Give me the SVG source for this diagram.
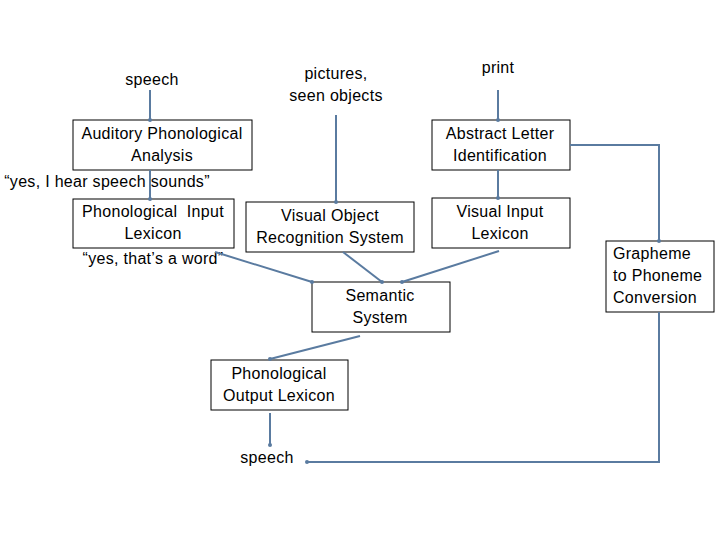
<svg xmlns="http://www.w3.org/2000/svg" width="720" height="540" viewBox="0 0 720 540">
<style>
.box{fill:#fff;stroke:#000;stroke-width:1}
.t{font-family:"Liberation Sans",Arial,sans-serif;font-size:16px;letter-spacing:0.3px;fill:#000;text-anchor:middle}
.l{text-anchor:start}
.c{fill:none;stroke:#5a7ba0;stroke-width:2}
</style>
<defs>
<marker id="dot" markerWidth="6" markerHeight="6" refX="3" refY="3" markerUnits="userSpaceOnUse">
<circle cx="3" cy="3" r="2" fill="#5a7ba0"/>
</marker>
</defs>
<rect width="720" height="540" fill="#fff"/>
<g id="apa"><rect class="box" x="73" y="120" width="179" height="50"/><text class="t" x="162" y="139">Auditory Phonological</text><text class="t" x="162" y="161">Analysis</text></g>
<g id="pil"><rect class="box" x="73" y="199" width="161" height="49"/><text class="t" x="153" y="217" xml:space="preserve">Phonological  Input</text><text class="t" x="153" y="239">Lexicon</text></g>
<g id="vors"><rect class="box" x="246" y="202" width="168" height="50"/><text class="t" x="330" y="221">Visual Object</text><text class="t" x="330" y="243">Recognition System</text></g>
<g id="ali"><rect class="box" x="432" y="120" width="138" height="50"/><text class="t" x="500" y="139">Abstract Letter</text><text class="t" x="500" y="161">Identification</text></g>
<g id="vil"><rect class="box" x="432" y="198" width="138" height="50"/><text class="t" x="500" y="217">Visual Input</text><text class="t" x="500" y="239">Lexicon</text></g>
<g id="gpc"><rect class="box" x="606" y="241" width="108" height="71"/><text class="t l" x="613" y="259">Grapheme</text><text class="t l" x="613" y="281">to Phoneme</text><text class="t l" x="613" y="303">Conversion</text></g>
<g id="semantic"><rect class="box" x="312" y="282" width="138" height="50"/><text class="t" x="380" y="301">Semantic</text><text class="t" x="380" y="323">System</text></g>
<g id="pol"><rect class="box" x="211" y="360" width="137" height="50"/><text class="t" x="279" y="379">Phonological</text><text class="t" x="279" y="401">Output Lexicon</text></g>
<g id="speech-in"><text class="t" x="152" y="85">speech</text></g>
<g id="pictures"><text class="t" x="336" y="79">pictures,</text><text class="t" x="336" y="101">seen objects</text></g>
<g id="print"><text class="t" x="498" y="73">print</text></g>
<g id="hear-label"><text class="t" x="107" y="187">“yes, I hear speech sounds”</text></g>
<g id="word-label"><text class="t" x="153" y="264">“yes, that’s a word”</text></g>
<g id="speech-out"><text class="t" x="267" y="463">speech</text></g>
<g id="connectors">
<path class="c" d="M150,90 L150,120" marker-end="url(#dot)"/>
<path class="c" d="M150,170 L150,199" marker-end="url(#dot)"/>
<path class="c" d="M336,115 L336,202" marker-end="url(#dot)"/>
<path class="c" d="M498,90 L498,120" marker-end="url(#dot)"/>
<path class="c" d="M498,170 L498,198" marker-end="url(#dot)"/>
<path class="c" d="M570,145 L659,145 L659,241" marker-end="url(#dot)"/>
<path class="c" d="M659,312 L659,462 L307,462" marker-end="url(#dot)"/>
<path class="c" d="M270,413 L270,445" marker-end="url(#dot)"/>
<path class="c" d="M215,252 L312,282" marker-end="url(#dot)"/>
<path class="c" d="M343,252 L382,282" marker-end="url(#dot)"/>
<path class="c" d="M499,251 L402,282" marker-end="url(#dot)"/>
<path class="c" d="M360,336 L270,359" marker-end="url(#dot)"/>
</g>
</svg>
